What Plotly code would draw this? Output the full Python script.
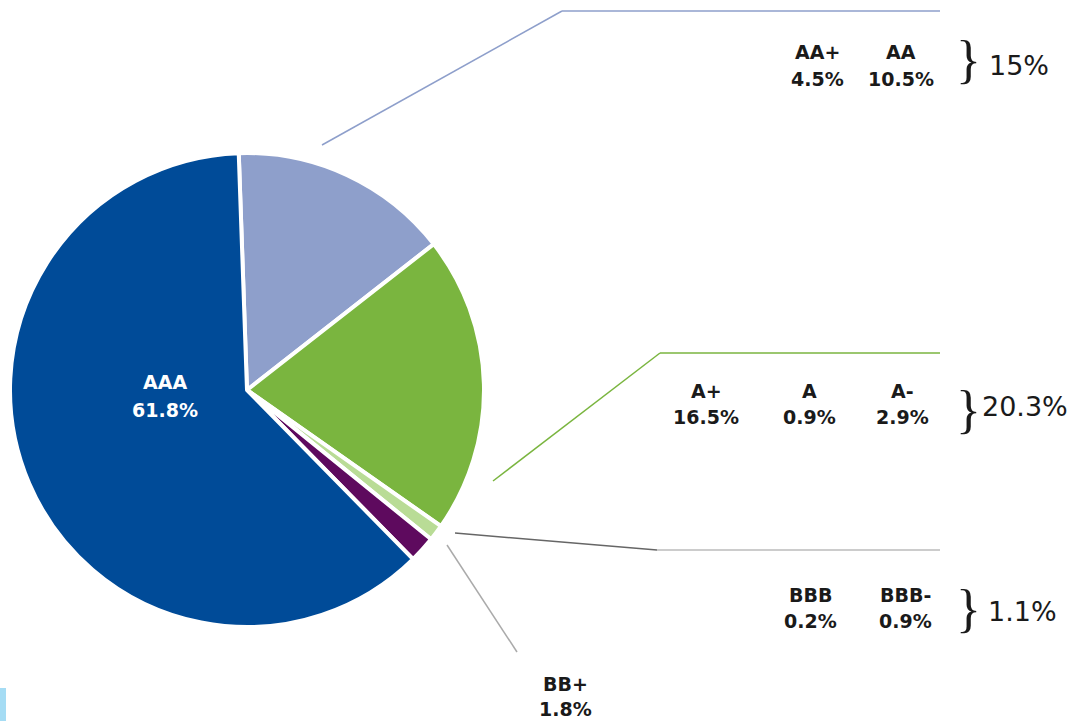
import plotly.graph_objects as go

# ---- data ----
groups = ["AA", "A", "BBB", "BB+", "AAA"]
group_values = [15.0, 20.3, 1.1, 1.8, 61.8]
group_colors = ["#8E9FCB", "#7AB53F", "#B9DC96", "#5E0A5E", "#004B98"]

aa_labels = ["AA+", "AA"]
aa_values = ["4.5%", "10.5%"]
aa_total = "15%"

a_labels = ["A+", "A", "A-"]
a_values = ["16.5%", "0.9%", "2.9%"]
a_total = "20.3%"

bbb_labels = ["BBB", "BBB-"]
bbb_values = ["0.2%", "0.9%"]
bbb_total = "1.1%"

bb_label = "BB+"
bb_value = "1.8%"
aaa_label = "AAA"
aaa_value = "61.8%"

W, H = 1072, 721


def px(x):
    return x / W


def py(y):
    return 1 - y / H


cx, cy, r = 247, 390, 237

fig = go.Figure()
fig.add_trace(go.Pie(
    labels=groups, values=group_values, sort=False, direction="clockwise",
    rotation=-2, textinfo="none", hoverinfo="none", showlegend=False,
    marker=dict(colors=group_colors, line=dict(color="white", width=4)),
    domain=dict(x=[px(cx - r), px(cx + r)], y=[py(cy + r), py(cy - r)]),
))

FONT = "DejaVu Sans, Verdana, sans-serif"
ann = []


def label(x, y, text, size=19, bold=True, color="#1a1a1a", xanchor="center"):
    t = f"<b>{text}</b>" if bold else text
    ann.append(dict(x=px(x), y=py(y), xref="paper", yref="paper", text=t,
                    showarrow=False, xanchor=xanchor, yanchor="middle",
                    font=dict(family=FONT, size=size, color=color)))


def brace(x, y):
    ann.append(dict(x=px(x), y=py(y), xref="paper", yref="paper", text="}",
                    showarrow=False, xanchor="center", yanchor="middle",
                    font=dict(family="Liberation Serif, Times New Roman, serif",
                              size=52, color="#1a1a1a")))


BIG = 27

# AA group
for xpos, lab, val in zip([817, 901], aa_labels, aa_values):
    label(xpos, 52, lab)
    label(xpos, 79, val)
brace(968, 60)
label(987, 66, aa_total, size=BIG, bold=False, xanchor="left")

# A group
for xpos, lab, val in zip([706, 809, 902], a_labels, a_values):
    label(xpos, 391, lab)
    label(xpos, 417, val)
brace(968, 409)
label(980, 406, a_total, size=BIG, bold=False, xanchor="left")

# BBB group
for xpos, lab, val in zip([810, 905], bbb_labels, bbb_values):
    label(xpos, 595, lab)
    label(xpos, 621, val)
brace(968, 608)
label(986, 611, bbb_total, size=BIG, bold=False, xanchor="left")

# BB+
label(565, 684, bb_label)
label(565, 709, bb_value)

# AAA inside
label(165, 382, aaa_label, color="white")
label(165, 410, aaa_value, color="white")

shapes = []


def seg(x0, y0, x1, y1, color, width=1.5):
    shapes.append(dict(type="line", xref="paper", yref="paper",
                       x0=px(x0), y0=py(y0), x1=px(x1), y1=py(y1),
                       line=dict(color=color, width=width)))


seg(322, 145, 562, 11, "#8E9FCB")
seg(562, 11, 940, 11, "#8E9FCB")
seg(493, 481, 660, 353, "#7AB53F")
seg(660, 353, 940, 353, "#7AB53F")
seg(455, 533, 657, 550, "#666666")
seg(657, 550, 940, 550, "#BBBBBB")
seg(447, 545, 517, 652, "#AAAAAA")

shapes.append(dict(type="rect", xref="paper", yref="paper",
                   x0=px(0), x1=px(6), y0=py(721), y1=py(688),
                   fillcolor="#A5DCF4", line=dict(width=0)))

fig.update_layout(width=W, height=H, margin=dict(l=0, r=0, t=0, b=0),
                  paper_bgcolor="white", plot_bgcolor="white",
                  annotations=ann, shapes=shapes)

fig.write_html("out.html", config={"displayModeBar": False},
               post_script="document.body.style.margin='0';")
